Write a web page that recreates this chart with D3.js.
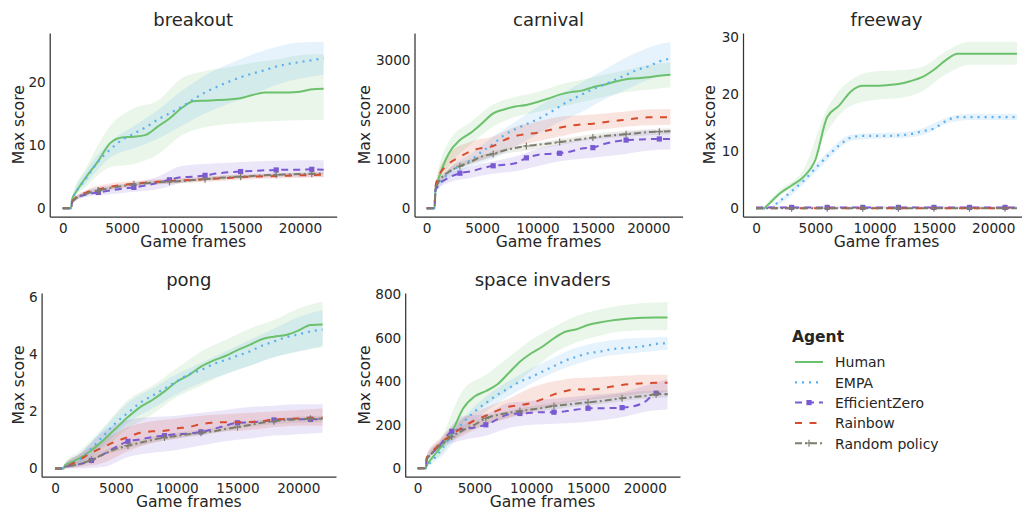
<!DOCTYPE html>
<html><head><meta charset="utf-8">
<script src="https://cdn.jsdelivr.net/npm/d3@7"></script>
<style>
html,body{margin:0;padding:0;background:#fff;overflow:hidden;}
svg{display:block;font-family:"DejaVu Sans",sans-serif;}
</style></head><body>
<svg id="chart" width="1022" height="509"></svg>
<script>
// ---------------- DATA ----------------
const agents = ["Human", "EMPA", "EfficientZero", "Rainbow", "Random policy"];
const panelTitles = ["breakout", "carnival", "freeway", "pong", "space invaders"];
const X  = [0,700,800,1000,2000,3000,4000,5000,6000,7000,8000,9000,10000,11000,12000,13000,14000,15000,16000,17000,18000,19000,20000,21000,22000];
const BX = [0,700,800,2000,4000,6000,8000,10000,12000,14000,16000,18000,20000,22000];
const xTicks = [0,5000,10000,15000,20000];
const breakoutTicks = [0,10,20];
const carnivalTicks = [0,1000,2000,3000];
const freewayTicks = [0,10,20,30];
const pongTicks = [0,2,4,6];
const spaceTicks = [0,200,400,600,800];

const breakoutMean = {
  "Human":        [0,0,1.5,2.2,5.0,7.5,10.3,11.2,11.3,11.6,12.9,14.2,15.8,16.9,17.0,17.1,17.2,17.4,17.9,18.3,18.3,18.3,18.4,18.8,18.9],
  "EMPA":         [0,0,1.5,2.2,4.8,7.4,9.3,10.8,11.8,12.8,14.0,15.0,16.0,17.2,18.3,19.2,20.0,20.7,21.3,21.8,22.4,22.8,23.1,23.4,23.7],
  "EfficientZero":[0,0,1.0,1.4,2.2,2.5,2.8,3.1,3.3,3.6,4.0,4.5,4.9,5.0,5.2,5.5,5.7,5.8,5.9,6.0,6.05,6.1,6.1,6.15,6.1],
  "Rainbow":      [0,0,1.0,1.5,2.5,3.0,3.4,3.7,3.9,4.05,4.2,4.3,4.4,4.5,4.6,4.7,4.8,4.9,5.0,5.05,5.1,5.15,5.2,5.25,5.3],
  "Random policy":[0,0,0.9,1.4,2.3,2.8,3.2,3.5,3.8,3.95,4.1,4.2,4.3,4.45,4.6,4.75,4.9,5.0,5.1,5.2,5.3,5.35,5.4,5.45,5.5]
};
const breakoutLo = {
  "Human":        [0,0,1.2,3.5,6.5,7.0,8.5,11.5,12.8,13.3,13.6,13.8,13.9,14.0],
  "EMPA":         [0,0,1.2,4.0,8.0,9.5,11.0,13.0,15.0,16.5,18.0,19.5,20.5,21.1],
  "EfficientZero":[0,0,0.8,1.8,2.2,2.6,3.0,4.0,4.5,4.7,4.8,4.9,5.0,5.0],
  "Rainbow":      [0,0,0.8,2.1,3.0,3.5,3.8,4.0,4.2,4.4,4.6,4.7,4.8,4.9],
  "Random policy":[0,0,0.8,2.0,2.8,3.5,3.8,4.0,4.3,4.6,4.9,5.1,5.2,5.3]
};
const breakoutHi = {
  "Human":        [0,0,1.8,6.5,13.0,15.8,17.0,20.5,21.7,22.3,23.0,23.5,24.2,24.4],
  "EMPA":         [0,0,1.8,6.0,10.5,13.0,15.5,18.5,21.0,22.8,24.3,25.5,26.2,26.3],
  "EfficientZero":[0,0,1.3,2.8,3.6,4.0,5.0,6.7,7.0,7.2,7.4,7.5,7.6,7.6],
  "Rainbow":      [0,0,1.3,2.9,3.9,4.3,4.6,4.8,5.0,5.2,5.4,5.5,5.6,5.7],
  "Random policy":[0,0,1.2,2.6,3.4,4.1,4.4,4.6,4.9,5.2,5.3,5.5,5.6,5.7]
};

const carnivalMean = {
  "Human":        [0,0,400,550,1110,1380,1530,1720,1920,2000,2060,2090,2150,2220,2300,2350,2380,2450,2500,2560,2610,2630,2650,2680,2700],
  "EMPA":         [0,0,350,430,720,850,980,1150,1300,1480,1600,1700,1800,1920,2060,2190,2300,2410,2500,2600,2700,2800,2870,2970,3030],
  "EfficientZero":[0,0,380,450,620,710,750,810,860,880,910,1020,1080,1100,1113,1150,1210,1227,1300,1350,1380,1390,1400,1402,1400],
  "Rainbow":      [0,0,450,600,900,1040,1160,1220,1260,1380,1460,1500,1530,1580,1630,1670,1700,1710,1740,1770,1790,1820,1840,1840,1845],
  "Random policy":[0,0,400,500,740,850,945,1050,1100,1170,1220,1260,1285,1310,1340,1370,1400,1430,1460,1480,1500,1520,1540,1550,1560]
};
const carnivalLo = {
  "Human":        [0,0,350,850,1300,1650,1850,1950,2050,2150,2250,2350,2400,2450],
  "EMPA":         [0,0,300,600,850,1000,1250,1500,1750,1950,2200,2400,2600,2700],
  "EfficientZero":[0,0,330,520,620,700,750,850,950,1000,1050,1100,1170,1190],
  "Rainbow":      [0,0,380,700,900,1050,1250,1350,1450,1550,1600,1650,1680,1690],
  "Random policy":[0,0,360,680,900,1050,1140,1200,1280,1360,1410,1450,1480,1500]
};
const carnivalHi = {
  "Human":        [0,0,450,1350,1750,2100,2250,2350,2500,2600,2700,2800,2900,2950],
  "EMPA":         [0,0,400,800,1100,1450,1750,2050,2300,2550,2800,3050,3250,3370],
  "EfficientZero":[0,0,430,700,850,950,1050,1200,1300,1400,1480,1540,1580,1590],
  "Rainbow":      [0,0,520,1100,1350,1450,1650,1750,1850,1880,1920,1960,2000,2010],
  "Random policy":[0,0,440,800,1000,1150,1250,1320,1400,1470,1530,1570,1600,1620]
};

const freewayMean = {
  "Human":        [0,0,0.2,0.6,2.6,4.0,5.5,8.5,16.0,18.0,20.5,21.5,21.5,21.6,21.8,22.3,23.0,24.3,26.0,27.1,27.1,27.1,27.1,27.1,27.1],
  "EMPA":         [0,0,0,0,1.3,3.0,4.8,7.0,9.1,11.0,12.4,12.7,12.7,12.7,12.8,13.0,13.5,14.0,15.3,16.0,16.0,16.0,16.0,16.0,16.0],
  "EfficientZero":[0.15,0.15,0.15,0.15,0.15,0.15,0.15,0.15,0.15,0.15,0.15,0.15,0.15,0.15,0.15,0.15,0.15,0.15,0.15,0.15,0.15,0.15,0.15,0.15,0.15],
  "Rainbow":      [0,0,0,0,0,0,0,0,0,0,0,0,0,0,0,0,0,0,0,0,0,0,0,0,0],
  "Random policy":[0,0,0,0,0,0,0,0,0,0,0,0,0,0,0,0,0,0,0,0,0,0,0,0,0]
};
const freewayLo = {
  "Human":        [0,0,0.1,2.2,5.0,13.5,18.0,19.0,19.3,20.5,23.5,25.2,25.2,25.2],
  "EMPA":         [0,0,0,0.8,4.2,8.4,11.8,12.2,12.3,12.8,14.8,15.5,15.5,15.5],
  "EfficientZero":[0,0,0,0,0,0,0,0,0,0,0,0,0,0],
  "Rainbow":      [0,0,0,0,0,0,0,0,0,0,0,0,0,0],
  "Random policy":[0,0,0,0,0,0,0,0,0,0,0,0,0,0]
};
const freewayHi = {
  "Human":        [0,0.2,0.5,3.2,6.8,17.5,22.5,24.0,24.2,24.8,27.5,29.2,29.2,29.2],
  "EMPA":         [0,0,0,1.6,5.4,9.8,12.9,13.2,13.3,14.0,15.9,16.6,16.6,16.6],
  "EfficientZero":[0.35,0.35,0.35,0.35,0.35,0.35,0.35,0.35,0.35,0.35,0.35,0.35,0.35,0.35],
  "Rainbow":      [0.1,0.1,0.1,0.1,0.1,0.1,0.1,0.1,0.1,0.1,0.1,0.1,0.1,0.1],
  "Random policy":[0.1,0.1,0.1,0.1,0.1,0.1,0.1,0.1,0.1,0.1,0.1,0.1,0.1,0.1]
};

const pongMean = {
  "Human":        [0,0,0.1,0.15,0.35,0.64,1.0,1.4,1.8,2.15,2.4,2.7,3.04,3.27,3.57,3.78,3.94,4.15,4.33,4.53,4.62,4.68,4.83,5.03,5.05],
  "EMPA":         [0,0,0.1,0.12,0.3,0.7,1.15,1.6,1.95,2.3,2.55,2.8,3.05,3.3,3.45,3.65,3.8,3.95,4.1,4.3,4.45,4.6,4.7,4.8,4.87],
  "EfficientZero":[0,0,0.05,0.07,0.15,0.28,0.5,0.75,0.95,1.02,1.1,1.15,1.2,1.22,1.28,1.38,1.5,1.6,1.62,1.65,1.7,1.72,1.72,1.72,1.72],
  "Rainbow":      [0,0,0.05,0.08,0.3,0.55,0.75,0.95,1.1,1.25,1.3,1.32,1.4,1.45,1.55,1.6,1.62,1.62,1.63,1.65,1.72,1.73,1.75,1.78,1.78],
  "Random policy":[0,0,0.05,0.07,0.15,0.3,0.5,0.68,0.8,0.9,1.0,1.08,1.14,1.2,1.25,1.3,1.38,1.45,1.52,1.6,1.65,1.7,1.72,1.74,1.74]
};
const pongLo = {
  "Human":        [0,0,0.05,0.15,0.7,1.4,1.9,2.5,2.9,3.3,3.6,3.9,4.1,4.25],
  "EMPA":         [0,0,0.05,0.2,0.8,1.6,2.1,2.6,3.0,3.3,3.6,3.9,4.1,4.3],
  "EfficientZero":[0,0,0,0,0.05,0.4,0.55,0.65,0.8,0.95,1.05,1.15,1.2,1.25],
  "Rainbow":      [0,0,0,0.05,0.2,0.6,0.9,1.05,1.2,1.3,1.35,1.45,1.5,1.5],
  "Random policy":[0,0,0,0.08,0.45,0.7,0.9,1.05,1.15,1.3,1.45,1.55,1.6,1.62]
};
const pongHi = {
  "Human":        [0,0,0.2,0.6,1.45,2.4,2.9,3.5,4.1,4.5,4.9,5.2,5.6,5.85],
  "EMPA":         [0,0,0.15,0.5,1.4,2.3,2.8,3.3,3.7,4.1,4.5,4.9,5.3,5.55],
  "EfficientZero":[0,0,0.15,0.5,1.3,1.7,1.8,1.85,1.95,2.05,2.15,2.2,2.25,2.25],
  "Rainbow":      [0,0,0.15,0.5,1.0,1.45,1.65,1.75,1.85,1.9,1.95,2.0,2.05,2.1],
  "Random policy":[0,0,0.1,0.25,0.65,0.9,1.1,1.25,1.35,1.5,1.65,1.75,1.82,1.85]
};

const spaceMean = {
  "Human":        [0,0,15,30,95,165,275,330,355,385,437,490,529,560,598,628,639,659,670,679,685,690,692,693,693],
  "EMPA":         [0,0,10,20,80,150,210,260,300,337,368,398,420,445,470,495,513,529,536,547,552,556,562,572,575],
  "EfficientZero":[0,0,45,55,110,170,180,188,200,225,248,252,255,258,258,262,270,276,276,277,279,285,305,345,340],
  "Rainbow":      [0,0,50,60,115,155,190,220,242,265,283,290,300,318,340,355,363,362,365,375,383,388,392,393,393],
  "Random policy":[0,0,40,55,105,145,175,200,230,245,255,263,270,278,287,292,298,303,308,315,322,328,333,340,340]
};
const spaceLo = {
  "Human":        [0,0,10,60,210,290,360,450,530,580,610,630,635,635],
  "EMPA":         [0,0,5,50,170,260,330,390,440,480,510,525,535,545],
  "EfficientZero":[0,0,35,90,130,150,185,200,205,210,220,235,260,270],
  "Rainbow":      [0,0,40,100,150,200,230,260,290,310,320,330,345,350],
  "Random policy":[0,0,30,95,160,200,235,255,270,285,295,310,320,325]
};
const spaceHi = {
  "Human":        [0,0,30,130,360,430,510,590,650,700,730,750,760,765],
  "EMPA":         [0,0,20,90,230,330,400,460,510,555,580,595,600,605],
  "EfficientZero":[0,0,60,130,240,250,300,310,320,330,340,350,380,410],
  "Rainbow":      [0,0,65,140,230,280,320,370,400,415,420,425,430,430],
  "Random policy":[0,0,50,125,200,240,265,285,300,315,330,345,355,360]
};

// ---------------- STYLE / LAYOUT ----------------
const colors = {"Human":"#6cc16c","EMPA":"#5aaff0","EfficientZero":"#7a5ad2","Rainbow":"#d84b2d","Random policy":"#7d7d6e"};
const dashes = {"Human":null,"EMPA":"2,5","EfficientZero":"7,5","Rainbow":"7,7.5","Random policy":"7,3,2,3"};
const widths = {"Human":2,"EMPA":2.2,"EfficientZero":2,"Rainbow":2,"Random policy":2};
const xDomain = [-1100, 23100];

const panels = [
  {title:panelTitles[0], mean:breakoutMean, lo:breakoutLo, hi:breakoutHi, ticks:breakoutTicks, yDom:[-1.3,27.7],  L:49.7,  R:336.7, T:33,  B:216.5, labX:24},
  {title:panelTitles[1], mean:carnivalMean, lo:carnivalLo, hi:carnivalHi, ticks:carnivalTicks, yDom:[-166,3546],  L:414.5, R:682.6, T:33,  B:216.5, labX:370},
  {title:panelTitles[2], mean:freewayMean,  lo:freewayLo,  hi:freewayHi,  ticks:freewayTicks,  yDom:[-1.44,30.75],L:743,   R:1030,  T:33,  B:216.5, labX:715},
  {title:panelTitles[3], mean:pongMean,     lo:pongLo,     hi:pongHi,     ticks:pongTicks,     yDom:[-0.29,6.15], L:41.6,  R:336,   T:293, B:476.7, labX:23.5},
  {title:panelTitles[4], mean:spaceMean,    lo:spaceLo,    hi:spaceHi,    ticks:spaceTicks,    yDom:[-38.6,806],  L:405.2, R:680,   T:293, B:476.7, labX:370}
];

const svg = d3.select("#chart");
const textColor = "#262626";

panels.forEach(p => {
  const x = d3.scaleLinear().domain(xDomain).range([p.L, p.R]);
  const y = d3.scaleLinear().domain(p.yDom).range([p.B, p.T]);
  const g = svg.append("g");

  // bands
  agents.forEach(a => {
    const area = d3.area()
      .x((d, j) => x(BX[j]))
      .y0((d, j) => y(p.lo[a][j]))
      .y1((d, j) => y(p.hi[a][j]))
      .curve(d3.curveMonotoneX);
    g.append("path").datum(BX).attr("d", area)
      .attr("fill", colors[a]).attr("fill-opacity", 0.15).attr("stroke", "none");
  });

  // lines
  agents.forEach(a => {
    const line = d3.line()
      .x((d, j) => x(X[j]))
      .y((d, j) => y(p.mean[a][j]))
      .curve(d3.curveMonotoneX);
    g.append("path").datum(X).attr("d", line)
      .attr("fill", "none").attr("stroke", colors[a])
      .attr("stroke-width", widths[a])
      .attr("stroke-dasharray", dashes[a]);
    const idx = X.map((v, j) => j).filter(j => X[j] > 0 && X[j] % 3000 === 0);
    if (a === "EfficientZero") {
      g.selectAll(null).data(idx).enter().append("rect")
        .attr("x", j => x(X[j]) - 2.6).attr("y", j => y(p.mean[a][j]) - 2.6)
        .attr("width", 5.2).attr("height", 5.2).attr("fill", colors[a]);
    }
    if (a === "Random policy") {
      g.selectAll(null).data(idx).enter().append("path")
        .attr("d", j => { const cx = x(X[j]), cy = y(p.mean[a][j]);
          return `M${cx-3.5},${cy}H${cx+3.5}M${cx},${cy-3.5}V${cy+3.5}`; })
        .attr("stroke", colors[a]).attr("stroke-width", 1.2);
    }
  });

  // axes
  const ax = g.append("g").attr("transform", `translate(0,${p.B})`)
    .call(d3.axisBottom(x).tickValues(xTicks).tickSize(0).tickPadding(7).tickFormat(d3.format("d")));
  const ay = g.append("g").attr("transform", `translate(${p.L},0)`)
    .call(d3.axisLeft(y).tickValues(p.ticks).tickSize(0).tickPadding(4).tickFormat(d3.format("d")));
  [ax, ay].forEach(a => {
    a.attr("font-family", "DejaVu Sans, sans-serif").attr("font-size", 13.6);
    a.select(".domain").attr("stroke", "#333").attr("stroke-width", 1.25);
    a.selectAll("text").attr("fill", textColor);
  });

  // titles / labels
  g.append("text").attr("x", (p.L + p.R) / 2).attr("y", p.T - 7)
    .attr("text-anchor", "middle").attr("font-size", 18).attr("fill", textColor).text(p.title);
  g.append("text").attr("x", (p.L + p.R) / 2).attr("y", p.B + 30.5)
    .attr("text-anchor", "middle").attr("font-size", 15.6).attr("fill", textColor).text("Game frames");
  g.append("text").attr("transform", `translate(${p.labX},${(p.T + p.B) / 2}) rotate(-90)`)
    .attr("text-anchor", "middle").attr("font-size", 15.6).attr("fill", textColor).text("Max score");
});

// legend
const lg = svg.append("g");
lg.append("text").attr("x", 792).attr("y", 342.3).attr("font-size", 15.5)
  .attr("font-weight", "bold").attr("fill", textColor).text("Agent");
agents.forEach((a, i) => {
  const by = 367.3 + i * 20.3;
  const ly = by - 5.3;
  lg.append("line").attr("x1", 795).attr("x2", 823).attr("y1", ly).attr("y2", ly)
    .attr("stroke", colors[a]).attr("stroke-width", widths[a]).attr("stroke-dasharray", dashes[a]);
  if (a === "EfficientZero") {
    lg.append("rect").attr("x", 809 - 2.6).attr("y", ly - 2.6).attr("width", 5.2).attr("height", 5.2).attr("fill", colors[a]);
  }
  if (a === "Random policy") {
    lg.append("path").attr("d", `M${809-3.5},${ly}H${809+3.5}M809,${ly-3.5}V${ly+3.5}`)
      .attr("stroke", colors[a]).attr("stroke-width", 1.2);
  }
  lg.append("text").attr("x", 835).attr("y", by).attr("font-size", 14).attr("fill", textColor).text(a);
});
</script>
</body></html>
